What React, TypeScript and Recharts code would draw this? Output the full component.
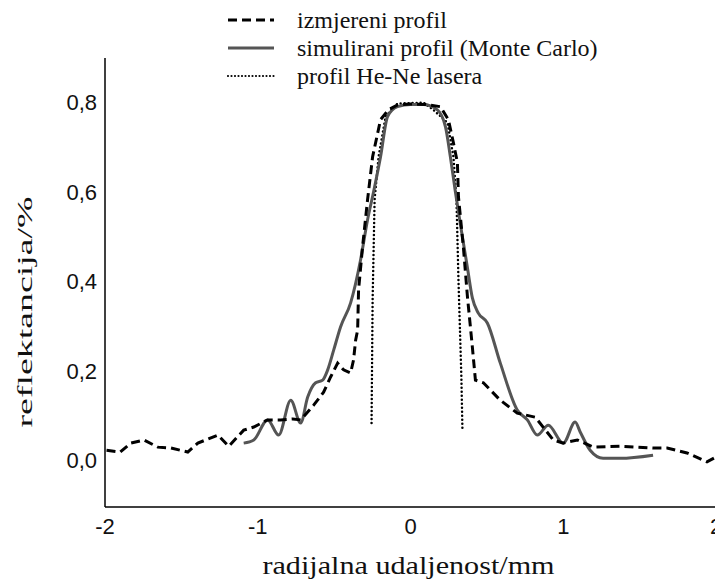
import { LineChart, Line, XAxis, YAxis, Legend } from "recharts";

// measured profile (dashed)
const measuredX = [
  -1.99, -1.9, -1.83, -1.745, -1.654, -1.569, -1.458, -1.392, -1.327, -1.261,
  -1.19, -1.092, -1.026, -0.935, -0.85, -0.771, -0.719, -0.634, -0.569, -0.523,
  -0.477, -0.438, -0.392, -0.373, -0.359, -0.346, -0.34, -0.314, -0.281, -0.248,
  -0.196, -0.144, -0.085, 0, 0.098, 0.196, 0.248, 0.281, 0.307, 0.314, 0.346,
  0.373, 0.405, 0.425, 0.477, 0.588, 0.699, 0.817, 0.935, 1.0, 1.092, 1.196,
  1.373, 1.588, 1.68, 1.81, 1.941, 2.0,
];
const measuredY = [
  0.022, 0.018, 0.038, 0.045, 0.029, 0.027, 0.018, 0.038, 0.047, 0.056,
  0.031, 0.067, 0.074, 0.09, 0.09, 0.092, 0.09, 0.123, 0.152, 0.186,
  0.217, 0.202, 0.195, 0.224, 0.269, 0.291, 0.381, 0.477, 0.583, 0.679,
  0.762, 0.784, 0.795, 0.797, 0.796, 0.791, 0.762, 0.71, 0.666, 0.589, 0.477,
  0.365, 0.253, 0.179, 0.173, 0.134, 0.105, 0.096, 0.045, 0.038, 0.045, 0.029,
  0.031, 0.027, 0.027, 0.016, -0.004, 0.007,
];

// Monte Carlo simulation (solid)
const simX = [
  -1.092, -1.026, -0.935, -0.863, -0.784, -0.719, -0.673, -0.621, -0.575, -0.542,
  -0.503, -0.458, -0.392, -0.327, -0.281, -0.242, -0.196, -0.15, -0.085, 0,
  0.085, 0.176, 0.229, 0.261, 0.294, 0.327, 0.373, 0.405, 0.444, 0.503, 0.588,
  0.699, 0.765, 0.83, 0.902, 1.0, 1.078, 1.111, 1.176, 1.261, 1.373, 1.588,
];
const simY = [
  0.038, 0.045, 0.09, 0.056, 0.134, 0.083, 0.141, 0.173, 0.179, 0.202,
  0.246, 0.298, 0.352, 0.448, 0.538, 0.6, 0.679, 0.769, 0.791, 0.796,
  0.796, 0.784, 0.746, 0.679, 0.6, 0.527, 0.43, 0.363, 0.329, 0.307, 0.217,
  0.112, 0.09, 0.056, 0.078, 0.038, 0.085, 0.063, 0.022, 0.004, 0.004, 0.011,
];

// He-Ne laser profile (dotted)
const laserX = [
  -0.255, -0.248, -0.235, -0.209, -0.163, -0.085, 0.085, 0.15, 0.242, 0.281,
  0.301, 0.314, 0.333, 0.34,
];
const laserY = [
  0.083, 0.359, 0.583, 0.679, 0.769, 0.798, 0.8, 0.784, 0.755, 0.679,
  0.583, 0.403, 0.186, 0.067,
];

const xTicks = [-2, -1, 0, 1, 2];
const yTicks = [0, 0.2, 0.4, 0.6, 0.8];

const legendLabels = [
  "izmjereni profil",
  "simulirani profil (Monte Carlo)",
  "profil He-Ne lasera",
];

const zip = (xs: number[], ys: number[]) => xs.map((x, i) => ({ x, y: ys[i] }));

const measured = zip(measuredX, measuredY);
const simulated = zip(simX, simY);
const laser = zip(laserX, laserY);

const serif = "'Liberation Serif', 'Times New Roman', serif";
const sans = "'Liberation Sans', Arial, sans-serif";

function LegendBox() {
  const rows = [
    { dash: "9 5", color: "#000", width: 3, cap: "butt" as const },
    { dash: undefined, color: "#555", width: 3, cap: "butt" as const },
    { dash: "0 3.5", color: "#000", width: 2.2, cap: "round" as const },
  ];
  return (
    <svg width={420} height={85} style={{ display: "block" }}>
      {rows.map((r, i) => (
        <g key={i}>
          <line
            x1={5}
            x2={51}
            y1={12 + i * 28}
            y2={12 + i * 28}
            stroke={r.color}
            strokeWidth={r.width}
            strokeDasharray={r.dash}
            strokeLinecap={r.cap}
          />
          <text
            x={74}
            y={12 + i * 28}
            dominantBaseline="central"
            fontFamily={serif}
            fontSize={24}
            fill="#111"
          >
            {legendLabels[i]}
          </text>
        </g>
      ))}
    </svg>
  );
}

export default function App() {
  return (
    <LineChart
      width={715}
      height={575}
      margin={{ top: 50, right: 7, left: 37, bottom: 36 }}
      style={{ background: "#fff" }}
    >
      <XAxis
        type="number"
        dataKey="x"
        domain={[-2, 2]}
        ticks={xTicks}
        allowDuplicatedCategory={false}
        tickLine={false}
        tickSize={0}
        tickMargin={11}
        height={40}
        stroke="#000"
        strokeWidth={1.5}
        tick={{ fontSize: 22, fill: "#111", fontFamily: sans }}
        label={({ viewBox }: any) => {
          const cx = viewBox.x + viewBox.width / 2 - 2;
          const cy = viewBox.y + 58;
          return (
            <text
              transform={`translate(${cx}, ${cy}) scale(1.16, 1)`}
              textAnchor="middle"
              dominantBaseline="central"
              fontFamily={serif}
              fontSize={26}
              fill="#111"
            >
              radijalna udaljenost/mm
            </text>
          );
        }}
      />
      <YAxis
        type="number"
        dataKey="y"
        domain={[-0.105, 0.9]}
        ticks={yTicks}
        tickFormatter={(v: number) => v.toFixed(1).replace(".", ",")}
        tickLine={false}
        tickSize={0}
        tickMargin={8}
        width={60}
        stroke="#000"
        strokeWidth={1.5}
        tick={{ fontSize: 22, fill: "#111", fontFamily: sans }}
        label={({ viewBox }: any) => {
          const cx = viewBox.x - 20;
          const cy = 304;
          return (
            <text
              transform={`translate(${cx}, ${cy}) rotate(-90) scale(1.72, 1)`}
              textAnchor="middle"
              dominantBaseline="central"
              fontFamily={serif}
              fontSize={22}
              fill="#111"
            >
              reflektancija/%
            </text>
          );
        }}
      />
      <Legend
        layout="vertical"
        verticalAlign="middle"
        align="center"
        content={() => <LegendBox />}
        wrapperStyle={{ position: "absolute", top: 0, left: 215, width: 420 }}
      />
      <Line
        data={laser}
        dataKey="y"
        type="linear"
        stroke="#000"
        strokeWidth={2.5}
        strokeDasharray="0 4"
        strokeLinecap="round"
        dot={false}
        isAnimationActive={false}
      />
      <Line
        data={simulated}
        dataKey="y"
        type="monotone"
        stroke="#555"
        strokeWidth={3}
        dot={false}
        isAnimationActive={false}
      />
      <Line
        data={measured}
        dataKey="y"
        type="linear"
        stroke="#000"
        strokeWidth={3}
        strokeDasharray="9 5"
        dot={false}
        isAnimationActive={false}
      />
    </LineChart>
  );
}
